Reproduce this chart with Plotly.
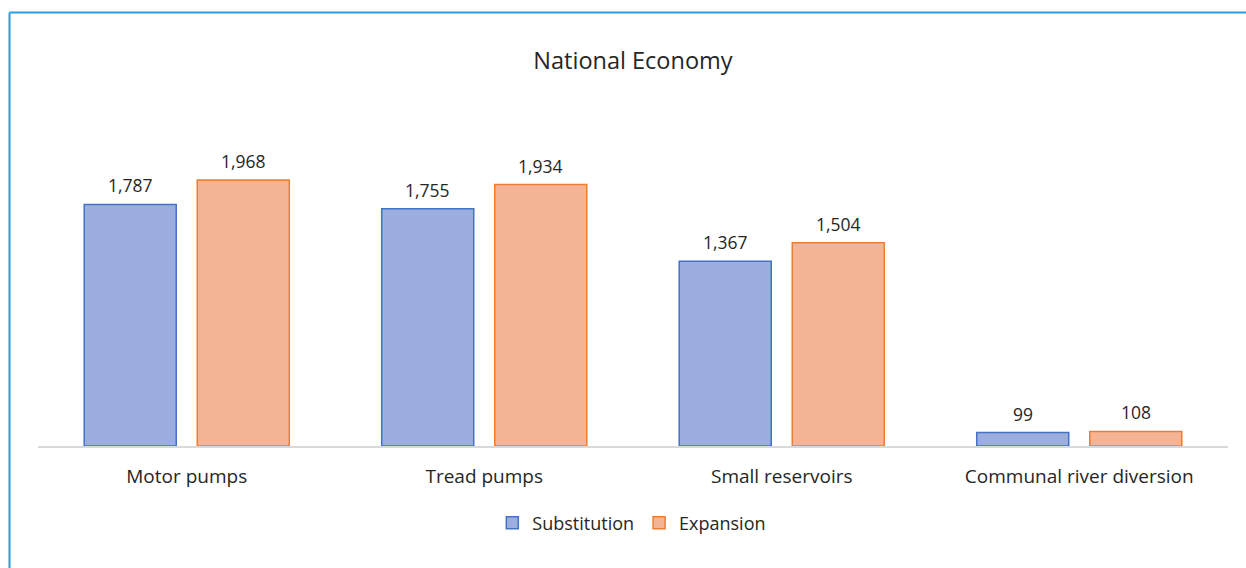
import plotly.graph_objects as go

categories = ["Motor pumps", "Tread pumps", "Small reservoirs", "Communal river diversion"]
substitution = [1787, 1755, 1367, 99]
expansion = [1968, 1934, 1504, 108]
series = [("Substitution", substitution, "#9CAEDD", "#4472C4"),
          ("Expansion", expansion, "#F6B496", "#ED7D31")]

FONT = "'Open Sans', sans-serif"
TEXT_COLOR = "#262626"

W, H = 1246, 568
left, right, top, bottom = 38, 18, 108, 122
pw, ph = W - left - right, H - top - bottom
BARGAP, BARGROUPGAP = 0.24, 0.186
Y_MAX = 2500

fig = go.Figure()
for name, vals, fill, edge in series:
    fig.add_trace(go.Bar(
        name=name, x=categories, y=vals,
        marker=dict(color=fill, line=dict(color=edge, width=1.5)),
    ))

# value labels above each bar, offset to the bar's slot within the group
cat_px = pw / len(categories)
slot_px = cat_px * (1 - BARGAP) / len(series)
for i, (name, vals, fill, edge) in enumerate(series):
    shift = (i - (len(series) - 1) / 2) * slot_px
    for cat, v in zip(categories, vals):
        fig.add_annotation(x=cat, y=v, xref="x", yref="y", text=f"{v:,}",
                           showarrow=False, xshift=shift, yshift=19, yanchor="middle",
                           font=dict(size=17.5, color=TEXT_COLOR, family=FONT))

def px_x(p):
    return (p - left) / pw

def px_y(p):
    return (H - bottom - p) / ph

border = "#2E9BDA"
fig.add_shape(type="line", xref="paper", yref="paper",
              x0=px_x(9.5), x1=px_x(1300), y0=px_y(12.5), y1=px_y(12.5),
              line=dict(color=border, width=2))
fig.add_shape(type="line", xref="paper", yref="paper",
              x0=px_x(9.5), x1=px_x(9.5), y0=px_y(12.5), y1=px_y(600),
              line=dict(color=border, width=2))

fig.update_layout(
    width=W, height=H,
    margin=dict(l=left, r=right, t=top, b=bottom),
    paper_bgcolor="white", plot_bgcolor="white",
    font=dict(family=FONT, color=TEXT_COLOR, size=16),
    title=dict(text="National Economy", x=0.508, xanchor="center",
               y=1 - 61 / H, yanchor="middle",
               font=dict(size=23.5, color=TEXT_COLOR, family=FONT)),
    barmode="group", bargap=BARGAP, bargroupgap=BARGROUPGAP,
    showlegend=True,
    legend=dict(orientation="h", x=0.499, xanchor="center", y=px_y(523), yanchor="middle",
                font=dict(size=18, color=TEXT_COLOR, family=FONT),
                itemwidth=30, traceorder="normal"),
    xaxis=dict(showline=True, linecolor="#D9D9D9", linewidth=1.5, ticks="",
               ticklabelstandoff=12, tickfont=dict(size=19, color=TEXT_COLOR, family=FONT),
               showgrid=False, zeroline=False),
    yaxis=dict(range=[0, Y_MAX], visible=False, showgrid=False, zeroline=False),
)

fig.write_html("out.html")
